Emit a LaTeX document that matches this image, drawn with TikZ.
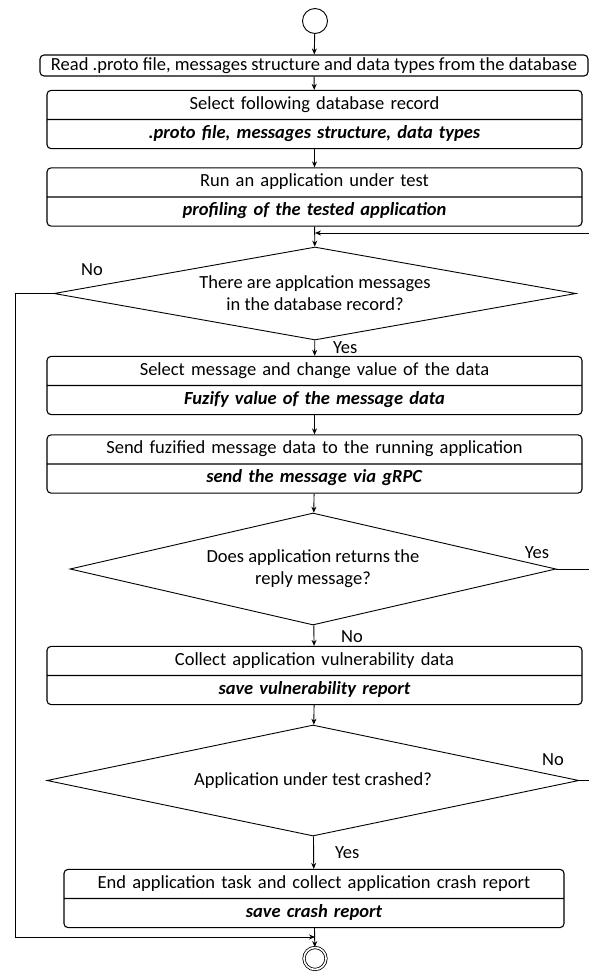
\documentclass[tikz,border=0pt]{standalone}
\usepackage{fontspec}
\setmainfont{Carlito}
\usetikzlibrary{shapes.geometric, shapes.multipart, arrows.meta}
\tikzset{
  flow/.style={-{Stealth[length=6pt, width=5pt]}, line width=0.9pt},
  link/.style={line width=0.9pt},
  task/.style={draw, line width=1.1pt, rounded corners=4pt, rectangle split,
      rectangle split parts=2, align=center, text width=527pt, inner xsep=4pt, inner ysep=3pt},
  readbox/.style={draw, line width=1.1pt, rounded corners=4pt, minimum width=548pt,
      minimum height=21pt, inner sep=1pt},
  decision/.style={draw, diamond, line width=0.9pt, align=center, inner sep=0pt},
  startnode/.style={draw, circle, line width=0.9pt, minimum size=25pt, inner sep=0pt},
  stopnode/.style={draw, circle, double, double distance=1.6pt, line width=0.8pt,
      minimum size=22pt, inner sep=0pt},
  lbl/.style={inner sep=0pt},
}
\newcommand{\outcome}[1]{\strut\textbf{\textit{#1}}}

\begin{document}
\begin{tikzpicture}[x=1pt, y=-1pt, font=\fontsize{18.5pt}{22pt}\selectfont]
  \useasboundingbox (0,0) rectangle (589,972);
  \clip (0,0) rectangle (589,972);
  % start
  \node[startnode] (start) at (315,21) {};
  \node[readbox] (read) at (314,65.5) {Read .proto file, messages structure and data types from the database};
  % steps
  \node[task] (record) at (314.5,119.5) {\strut Select following database record
    \nodepart{two}\outcome{.proto file, messages structure, data types}};
  \node[task] (run) at (314.5,197) {\strut Run an application under test
    \nodepart{two}\outcome{profiling of the tested application}};
  \node[decision, aspect=5.6, minimum width=522pt, minimum height=93pt] (msgs) at (315,293.5)
    {There are applcation messages\\in the database record?};
  \node[task] (select) at (314.5,385.5) {\strut Select message and change value of the data
    \nodepart{two}\outcome{Fuzify value of the message data}};
  \node[task] (send) at (314.5,464) {\strut Send fuzified message data to the running application
    \nodepart{two}\outcome{send the message via gRPC}};
  \node[decision, aspect=4.3, minimum width=486pt, minimum height=112pt] (reply) at (313,569)
    {Does application returns the\\reply message?};
  \node[task] (collect) at (314.5,675.5) {\strut Collect application vulnerability data
    \nodepart{two}\outcome{save vulnerability report}};
  \node[decision, aspect=4.8, minimum width=532pt, minimum height=111pt] (crash) at (313,780.5)
    {Application under test crashed?};
  \node[task, text width=492pt] (finish) at (314,898.5) {\strut End application task and collect application crash report
    \nodepart{two}\outcome{save crash report}};
  \node[stopnode] (stop) at (315,958.5) {};
  % loop points
  \coordinate (loop) at (315,233);
  \coordinate (join) at (315,937);
  \coordinate (rt) at (592,233);
  \coordinate (lft) at (15,293.5);
  % labels
  \node[lbl] (no1) at (92,270) {No};
  \node[lbl, anchor=west] (yes1) at (333,348) {Yes};
  \node[lbl] (yes2) at (537,553) {Yes};
  \node[lbl, anchor=west] (no2) at (341,637) {No};
  \node[lbl] (no3) at (553,760) {No};
  \node[lbl, anchor=west] (yes3) at (335,853) {Yes};
  % connectors
  \draw[flow] (start) -- (read);
  \draw[flow] (read) -- (record);
  \draw[flow] (record) -- (run);
  \draw[flow] (run) -- (msgs);
  \draw[flow] (msgs) -- (select);
  \draw[flow] (select) -- (send);
  \draw[flow] (send) -- (reply);
  \draw[flow] (reply) -- (collect);
  \draw[flow] (collect) -- (crash);
  \draw[flow] (crash) -- (finish);
  \draw[flow] (finish) -- (stop);
  % return lines
  \draw[flow] (reply.east) -- (reply.east -| rt) |- (loop);
  \draw[link] (crash.east) -- (crash.east -| rt);
  \draw[flow] (msgs.west) -- (lft) |- (join);
\end{tikzpicture}
\end{document}
